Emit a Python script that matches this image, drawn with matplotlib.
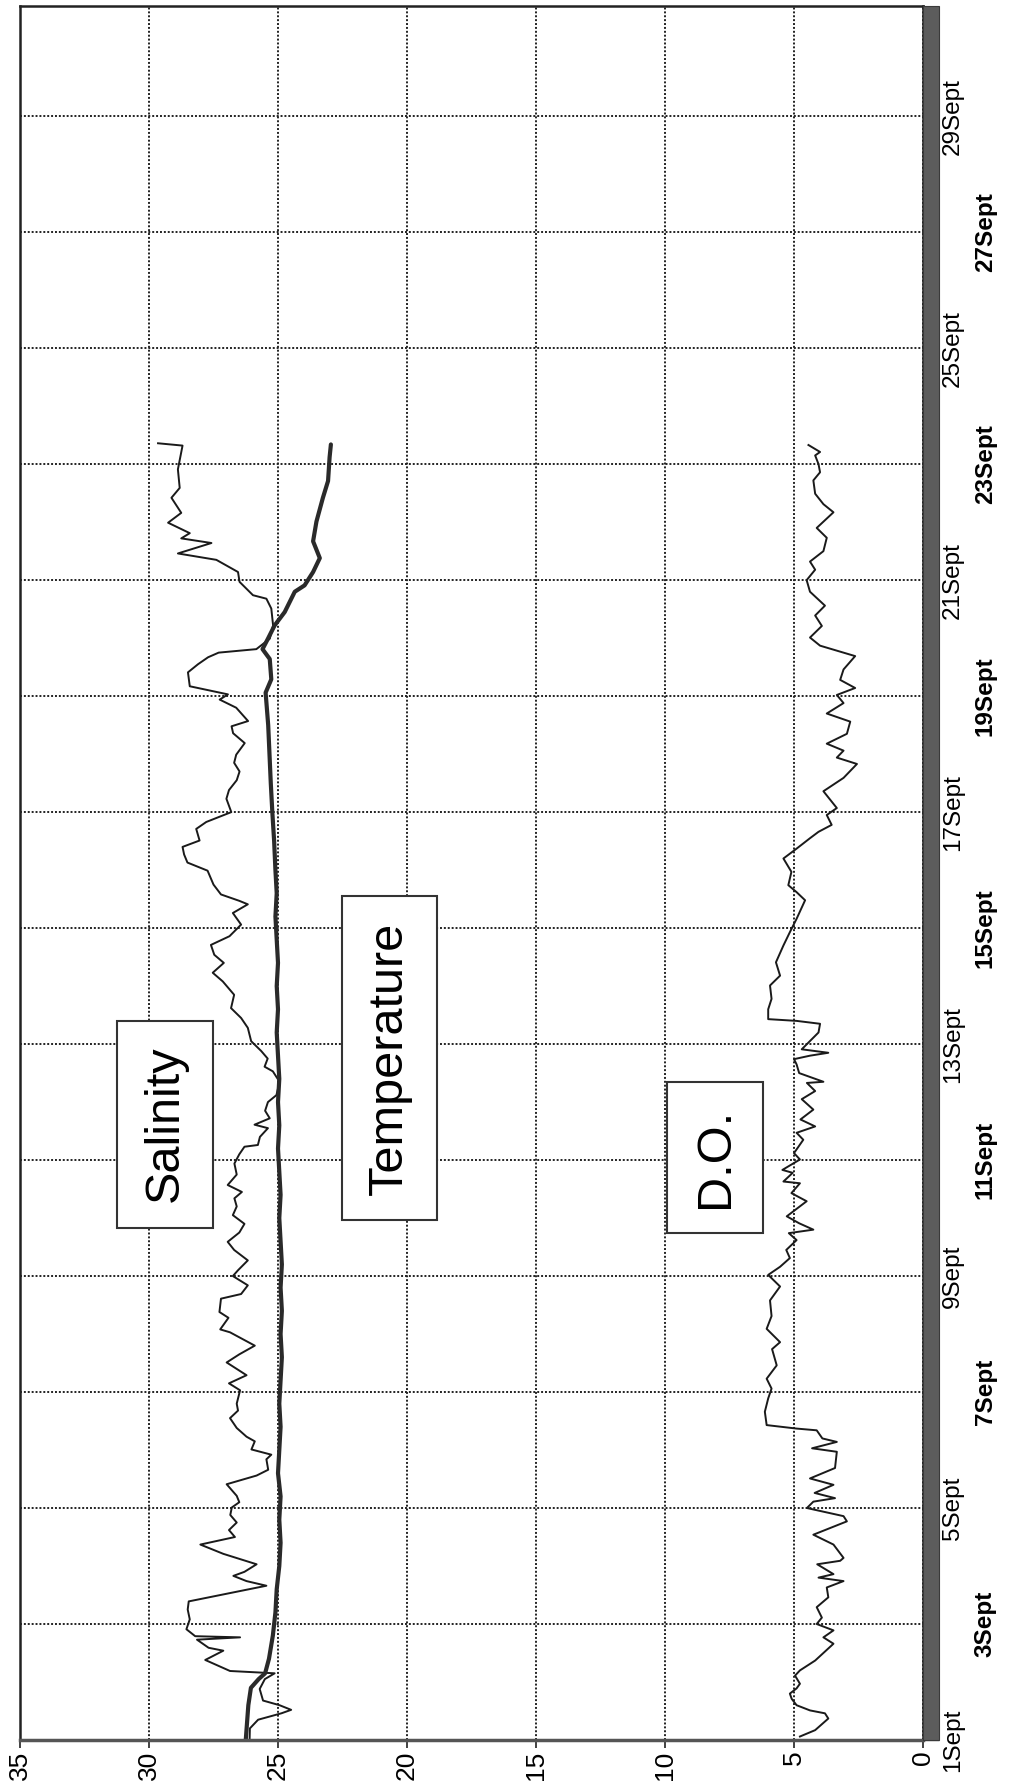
import matplotlib
matplotlib.use("Agg")
import matplotlib.pyplot as plt
from matplotlib.patches import Rectangle

plt.rcParams['font.family'] = ['Liberation Sans', 'DejaVu Sans']

# days after 1 Sept 00:00
sal_day = [0.02, 0.20, 0.35, 0.46, 0.52, 0.60, 0.68, 0.88, 1.05, 1.15, 1.19, 1.38, 1.54, 1.59,
           1.73, 1.77, 1.79, 1.91, 2.08, 2.25, 2.39, 2.66, 2.74, 2.83, 2.90, 3.03, 3.21, 3.37,
           3.50, 3.62, 3.75, 3.88, 4.01, 4.10, 4.21, 4.41, 4.56, 4.66, 4.84, 4.92, 5.01, 5.15,
           5.23, 5.38, 5.55, 5.68, 5.80, 6.03, 6.15, 6.29, 6.51, 6.65, 6.80, 7.03, 7.08, 7.28,
           7.38, 7.61, 7.69, 7.84, 8.00, 8.10, 8.27, 8.45, 8.59, 8.75, 8.90, 9.05, 9.20, 9.34,
           9.45, 9.57, 9.75, 9.94, 10.10, 10.23, 10.26, 10.40, 10.55, 10.61, 10.72, 10.85, 11.00,
           11.12, 11.35, 11.53, 11.61, 11.75, 11.88, 12.05, 12.28, 12.45, 12.62, 12.85, 13.08,
           13.23, 13.40, 13.54, 13.71, 13.86, 14.06, 14.26, 14.41, 14.47, 14.58, 14.75, 14.99,
           15.13, 15.27, 15.40, 15.51, 15.71, 15.83, 16.00, 16.23, 16.38, 16.55, 16.70, 16.85,
           16.99, 17.19, 17.36, 17.48, 17.57, 17.80, 17.94, 18.03, 18.17, 18.41, 18.55, 18.67,
           18.75, 18.81, 18.99, 19.22, 19.51, 19.68, 19.74, 19.97, 20.14, 20.35, 20.46, 20.64,
           20.72, 20.81, 20.99, 21.16, 21.42, 21.59, 21.91, 22.20, 22.32, 22.36]
sal_val = [26.10, 26.09, 25.77, 24.87, 24.49, 24.94, 25.58, 25.71, 25.51, 25.13, 26.86, 27.82, 27.12, 27.69,
           28.14, 26.47, 28.21, 28.55, 28.42, 28.50, 28.46, 25.45, 26.22, 26.73, 26.30, 25.83, 27.12, 28.01,
           26.67, 26.90, 26.60, 26.85, 26.79, 26.50, 26.60, 26.99, 25.83, 25.38, 25.45, 25.26, 26.03, 25.90,
           26.22, 26.60, 26.86, 26.55, 26.60, 26.47, 26.90, 26.22, 26.99, 26.50, 25.90, 26.86, 27.24, 26.92,
           27.27, 27.21, 26.43, 26.17, 26.75, 26.55, 26.17, 26.70, 26.95, 26.50, 26.30, 26.75, 26.60, 26.69,
           26.40, 26.95, 26.60, 26.69, 26.50, 26.30, 25.78, 25.70, 25.39, 25.91, 25.32, 25.50, 25.39,
           25.06, 24.94, 25.20, 25.52, 25.40, 25.65, 26.04, 26.17, 26.43, 26.82, 26.70, 27.14,
           27.53, 27.10, 27.47, 27.60, 26.88, 26.43, 26.75, 26.17, 26.50, 27.21, 27.50, 27.73,
           28.51, 28.64, 28.70, 28.04, 28.17, 27.78, 26.81, 27.00, 26.90, 26.60, 26.49, 26.70,
           26.62, 26.29, 26.74, 26.80, 26.16, 26.62, 27.26, 26.94, 28.42, 28.49, 28.10, 27.71,
           27.30, 25.84, 25.32, 25.19, 25.26, 25.45, 25.97, 26.49, 26.55, 27.39, 28.88, 27.58,
           28.75, 28.42, 29.26, 28.75, 29.13, 28.81, 28.88, 28.75, 28.70, 29.65]

temp_day = [0.00, 0.30, 0.60, 0.90, 1.05, 1.15, 1.40, 1.80, 2.20, 2.60, 3.00, 3.40, 3.80, 4.20,
            4.60, 5.00, 5.40, 5.80, 6.20, 6.60, 7.00, 7.40, 7.80, 8.20, 8.60, 9.00, 9.40, 9.80,
            10.20, 10.60, 11.00, 11.40, 11.80, 12.20, 12.60, 13.00, 13.40, 13.80, 14.20, 14.60,
            15.00, 15.50, 16.00, 16.50, 17.00, 17.50, 18.06, 18.29, 18.64, 18.81, 18.99, 19.22,
            19.45, 19.80, 19.91, 20.14, 20.38, 20.67, 21.01, 21.42, 21.71, 22.12, 22.34]
temp_val = [26.25, 26.20, 26.15, 26.05, 25.75, 25.50, 25.35, 25.20, 25.10, 25.05, 24.95, 24.90, 24.95, 24.90,
            25.00, 24.95, 24.90, 24.95, 24.90, 24.85, 24.90, 24.85, 24.90, 24.85, 24.90, 24.95, 24.90, 24.95,
            25.00, 24.95, 25.00, 24.95, 25.00, 25.05, 25.00, 25.05, 25.00, 25.05, 25.10, 25.05,
            25.10, 25.15, 25.22, 25.28, 25.33, 25.38, 25.48, 25.26, 25.32, 25.60, 25.39, 25.13,
            24.74, 24.35, 23.97, 23.64, 23.38, 23.64, 23.51, 23.26, 23.06, 23.00, 22.95]

do_day = [0.06, 0.17, 0.37, 0.46, 0.51, 0.60, 0.71, 0.80, 0.89, 0.97, 1.11, 1.20, 1.37, 1.66,
          1.77, 1.89, 2.00, 2.11, 2.29, 2.46, 2.63, 2.74, 2.80, 2.86, 3.03, 3.09, 3.14, 3.37,
          3.54, 3.77, 3.86, 4.00, 4.11, 4.17, 4.26, 4.40, 4.51, 4.69, 4.97, 5.03, 5.14, 5.20,
          5.34, 5.37, 5.43, 5.66, 5.89, 6.06, 6.23, 6.46, 6.74, 6.86, 7.09, 7.31, 7.58, 7.82,
          8.02, 8.16, 8.31, 8.45, 8.62, 8.74, 8.80, 8.91, 9.03, 9.29, 9.43, 9.60, 9.63, 9.78,
          9.83, 10.01, 10.12, 10.35, 10.47, 10.58, 10.70, 10.87, 11.05, 11.19, 11.33, 11.35,
          11.50, 11.65, 11.74, 11.80, 11.85, 11.91, 12.20, 12.35, 12.40, 12.43, 12.60, 12.78,
          13.01, 13.18, 13.41, 13.70, 13.93, 14.16, 14.48, 14.62, 14.74, 14.97, 15.20, 15.37,
          15.55, 15.66, 15.78, 15.95, 16.07, 16.36, 16.59, 16.83, 16.94, 17.06, 17.18, 17.35,
          17.56, 17.70, 17.88, 18.02, 18.14, 18.28, 18.46, 18.69, 18.87, 19.01, 19.21, 19.39,
          19.56, 19.80, 20.00, 20.18, 20.32, 20.50, 20.73, 20.90, 21.17, 21.31, 21.49, 21.72,
          21.86, 22.00, 22.15, 22.21, 22.33]
do_val = [4.77, 4.18, 3.67, 3.80, 4.38, 4.90, 5.09, 5.16, 4.90, 4.77, 4.96, 4.77, 4.18, 3.47,
          3.86, 3.47, 4.12, 3.92, 4.12, 3.67, 3.73, 3.08, 4.05, 3.47, 4.10, 3.21, 3.08, 3.47,
          4.25, 2.95, 3.08, 4.50, 4.25, 3.41, 4.20, 3.47, 4.38, 3.41, 3.34, 4.30, 3.34, 3.90,
          4.12, 4.90, 6.06, 6.13, 6.00, 5.87, 6.06, 5.67, 5.85, 5.54, 6.06, 5.87, 5.93, 5.54,
          6.00, 5.54, 5.16, 5.30, 4.90, 5.20, 4.25, 4.80, 5.28, 4.51, 5.10, 4.77, 5.41, 5.05,
          5.45, 4.77, 5.00, 4.64, 4.90, 4.18, 4.75, 4.25, 4.70, 4.18, 4.50, 3.86,
          4.80, 4.90, 5.00, 4.38, 3.67, 4.70, 4.05, 3.99, 4.90, 6.00, 6.00, 5.87,
          5.93, 5.54, 5.70, 5.41, 5.16, 4.90, 4.57, 4.90, 5.22, 5.10, 5.41, 4.90,
          4.38, 4.05, 3.54, 3.73, 3.34, 3.86, 3.08, 2.56, 3.34, 3.08, 3.73, 2.95,
          2.82, 3.73, 3.08, 3.34, 2.63, 3.21, 3.08, 2.63, 3.99, 4.38, 3.92, 4.18,
          3.80, 4.38, 4.51, 4.18, 4.38, 3.86, 3.73, 4.12, 3.47, 3.86, 4.18, 4.25,
          3.99, 4.05, 4.18, 3.99, 4.44]

value_ticks = [0, 5, 10, 15, 20, 25, 30, 35]
date_days = list(range(0, 29, 2))
date_labels = [f"{d + 1}Sept" for d in date_days]

fig = plt.figure(figsize=(10.18, 17.92), dpi=100)
ax = fig.add_axes([0.01965, 0.02902, 0.88703, 0.96763])

# chart is printed turned on its side: values run right-to-left, dates bottom-to-top
ax.plot(sal_val, sal_day, color='#1a1a1a', linewidth=1.4)
ax.plot(temp_val, temp_day, color='#2a2a2a', linewidth=3.0, solid_capstyle='round')
ax.plot(do_val, do_day, color='#1a1a1a', linewidth=1.4)

ax.set_xlim(35, 0)
ax.set_ylim(0, 29.9)

ax.set_xticks(value_ticks, labels=[str(v) for v in value_ticks], rotation=90, fontsize=19)
ax.tick_params(axis='x', length=5.8, width=1.2, color='#222222', pad=2)

# date axis on the right, sitting beside a dark grey band
ax.yaxis.tick_right()
ax.set_yticks(date_days, labels=date_labels, rotation=90, va='center', fontsize=17.5)
ax.tick_params(axis='y', length=11.5, width=1.0, color='#555555', direction='out')
for i, tick in enumerate(ax.yaxis.get_major_ticks()):
    if i % 2:
        tick.set_pad(25)
        tick.label2.set_fontweight('bold')
    else:
        tick.set_pad(2)

band_w = 16 / (0.88703 * 1018)
ax.add_patch(Rectangle((1.0, 0.0), band_w, 1.0, transform=ax.transAxes, clip_on=False,
                       facecolor='#5c5c5c', edgecolor='#3a3a3a', linewidth=0.8, zorder=3))

ax.grid(True, which='major', color='#222222', linestyle=(0, (1, 1)), linewidth=1.4)

for side in ['left', 'top', 'right']:
    ax.spines[side].set_linewidth(1.8)
    ax.spines[side].set_color('#222222')
ax.spines['bottom'].set_linewidth(2.5)
ax.spines['bottom'].set_color('#555555')

box = dict(boxstyle='square,pad=0.52', facecolor='white', edgecolor='#333333', linewidth=1.5)
ax.text(29.38, 10.62, 'Salinity', rotation=90, fontsize=35, ha='center', va='center', bbox=box)
ax.text(20.68, 11.76, 'Temperature', rotation=90, fontsize=35, ha='center', va='center', bbox=box)
ax.text(8.06, 10.04, 'D.O.', rotation=90, fontsize=35, ha='center', va='center', bbox=box)

fig.savefig('out.png', dpi=100)
